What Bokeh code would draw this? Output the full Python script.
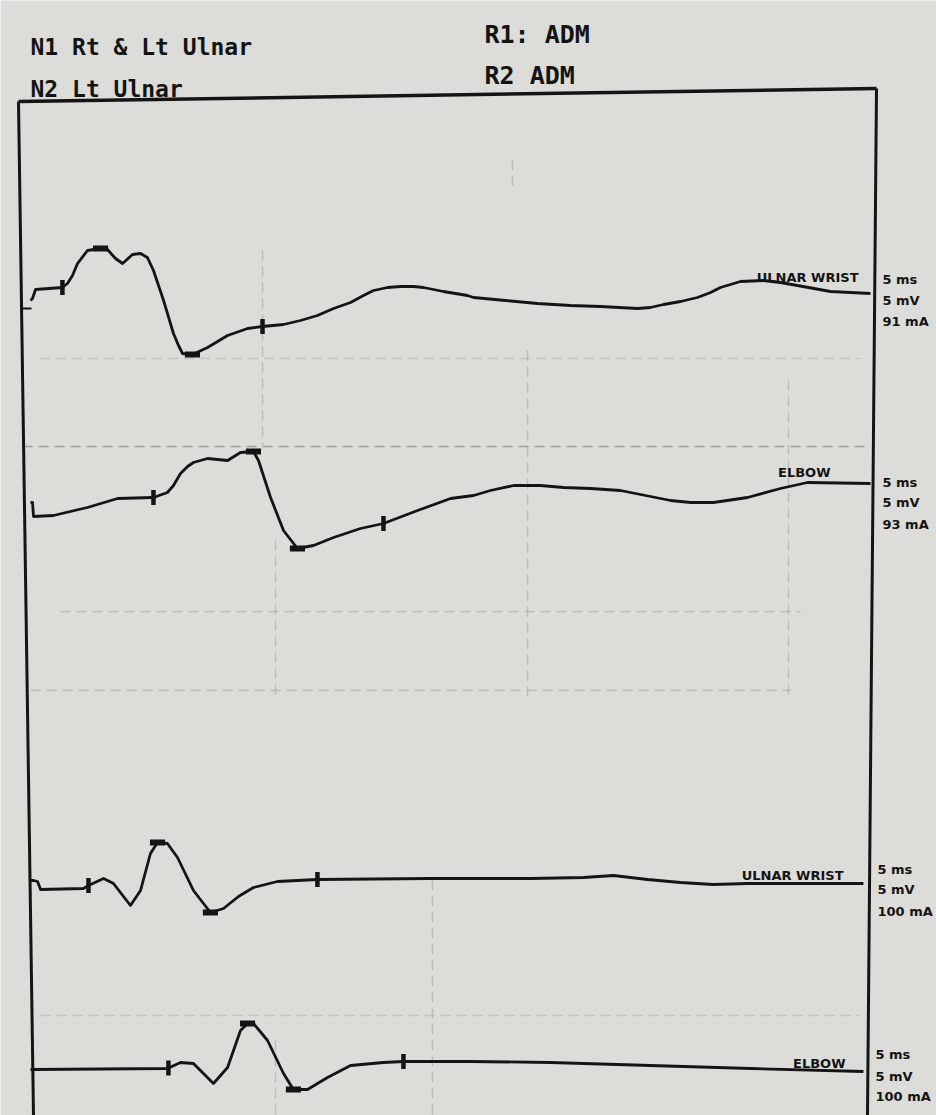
import numpy as np
from bokeh.plotting import figure
from bokeh.models import Range1d, Label
from bokeh.embed import file_html
from bokeh.resources import INLINE

# ---------------- data (time in ms, amplitude in mV relative to each sweep's baseline)
t_rwrist = [0.00, 0.12, 0.30, 1.90, 2.20, 2.50, 2.80, 3.39, 4.17, 4.58, 5.06, 5.48, 6.07, 6.55, 6.96,
            7.32, 7.92, 8.51, 8.81, 9.05, 9.64, 10.54, 11.73, 12.92, 13.81, 15.06, 16.07, 17.08,
            18.04, 19.05, 19.82, 20.42, 21.25, 22.02, 22.80, 23.39, 24.58, 26.01, 26.37, 28.27,
            30.18, 32.14, 33.93, 36.13, 36.90, 37.68, 38.69, 39.70, 40.48, 41.07, 42.26, 43.63,
            44.64, 45.65, 47.62, 50.00]
v_rwrist = [0.0, 0.2, 1.1, 1.3, 1.7, 2.5, 3.7, 5.0, 5.2, 5.1, 4.2, 3.7, 4.6, 4.7, 4.3,
            3.0, 0.0, -3.3, -4.5, -5.3, -5.4, -4.7, -3.5, -2.8, -2.6, -2.4, -2.0, -1.5,
            -0.8, -0.2, 0.5, 1.0, 1.3, 1.4, 1.4, 1.3, 0.9, 0.5, 0.3, 0.0,
            -0.3, -0.5, -0.6, -0.8, -0.7, -0.4, -0.1, 0.3, 0.8, 1.3, 1.9, 2.0,
            1.8, 1.5, 0.9, 0.7]

t_relbow = [0.00, 0.12, 0.18, 1.37, 3.39, 5.18, 7.32, 8.15, 8.51, 8.93, 9.35, 9.70, 10.54, 11.73,
            12.50, 13.27, 13.57, 14.29, 15.06, 15.89, 16.85, 18.04, 19.64, 21.01, 23.04, 25.00,
            26.37, 27.38, 28.75, 30.36, 31.73, 33.33, 35.12, 36.61, 38.10, 39.29, 40.65, 42.68,
            44.64, 46.25, 50.00]
v_relbow = [1.3, 1.3, -0.1, 0.0, 0.8, 1.7, 1.8, 2.3, 3.0, 4.2, 4.9, 5.3, 5.7, 5.5,
            6.3, 6.4, 5.5, 1.8, -1.5, -3.3, -3.0, -2.2, -1.3, -0.8, 0.5, 1.7,
            2.0, 2.5, 3.0, 3.0, 2.8, 2.7, 2.5, 2.0, 1.5, 1.3, 1.3, 1.8,
            2.7, 3.3, 3.2]

t_lwrist = [0.00, 0.18, 0.42, 0.60, 3.15, 3.45, 4.35, 4.94, 5.95, 6.55, 7.14, 7.56, 8.15, 8.75, 9.70,
            10.71, 11.49, 12.38, 13.27, 14.70, 17.08, 23.81, 29.76, 32.92, 34.70, 36.73, 38.69,
            40.65, 42.68, 49.58]
v_lwrist = [0.0, 0.0, -0.1, -0.9, -0.8, -0.5, 0.2, -0.3, -2.5, -1.0, 2.7, 3.8, 3.7, 2.3, -1.0,
            -3.2, -2.8, -1.6, -0.7, -0.1, 0.1, 0.2, 0.2, 0.3, 0.5, 0.1, -0.2,
            -0.4, -0.3, -0.3]

t_lelbow = [0.00, 0.18, 8.15, 8.93, 9.70, 10.89, 11.73, 12.50, 12.92, 13.27, 14.11, 15.06, 15.65,
            16.49, 17.68, 19.05, 21.01, 22.20, 26.19, 30.95, 36.90, 42.86, 49.58]
v_lelbow = [0.0, 0.0, 0.1, 0.7, 0.6, -1.4, 0.2, 3.9, 4.6, 4.6, 2.9, -0.4, -2.0,
            -2.0, -0.8, 0.4, 0.7, 0.8, 0.8, 0.7, 0.4, 0.1, -0.2]

# latency cursors (ms)
cursors_rwrist = [1.90, 13.81]
cursors_relbow = [7.32, 21.01]
cursors_lwrist = [3.45, 17.08]
cursors_lelbow = [8.21, 22.20]

sites = ["ULNAR WRIST", "ELBOW", "ULNAR WRIST", "ELBOW"]
sweeps = ["5 ms", "5 ms", "5 ms", "5 ms"]
gains = ["5 mV", "5 mV", "5 mV", "5 mV"]
intensities = ["91 mA", "93 mA", "100 mA", "100 mA"]

header_left = ["N1 Rt & Lt Ulnar", "N2 Lt Ulnar"]
header_mid = ["R1: ADM", "R2 ADM"]

# ---------------- layout
W, H = 936, 1115
PX_MS = 16.8      # pixels per ms
PX_MV = 10.0      # pixels per mV

def px(x):  # page pixel x -> data
    return (x - 30) / PX_MS

def py(y):  # page pixel y -> data
    return -y / PX_MV

BG = "#dcdcd9"
INK = "#141414"

p = figure(width=W, height=H, output_backend="svg", toolbar_location=None,
           x_range=Range1d(px(0), px(W)), y_range=Range1d(py(H), py(0)),
           min_border=0, min_border_left=0, min_border_right=0, min_border_top=0,
           min_border_bottom=0, outline_line_color=None,
           background_fill_color=BG, border_fill_color=BG)
p.axis.visible = False
p.grid.visible = False

# faint ghost graticule
ghost_h = [(22, 870, 446, "#8c8c8a", 0.75), (40, 860, 358, "#b4b4b2", 0.6),
           (60, 800, 611, "#a8a8a6", 0.6), (30, 790, 690, "#a8a8a6", 0.6),
           (40, 860, 1015, "#b4b4b2", 0.6)]
for xa, xb, yy, c, a in ghost_h:
    p.line([px(xa), px(xb)], [py(yy), py(yy)], line_color=c, line_alpha=a,
           line_width=1.5, line_dash="10 6")
ghost_v = [(262, 250, 445), (275, 540, 700), (527, 350, 700), (788, 380, 700),
           (512, 160, 185), (432, 880, 1115), (275, 1040, 1115)]
for xx, ya, yb in ghost_v:
    p.line([px(xx), px(xx)], [py(ya), py(yb)], line_color="#a6a6a4", line_alpha=0.6,
           line_width=1.5, line_dash="10 6")

# frame (slightly skewed like the photographed printout)
p.line([px(18), px(876)], [py(101), py(88)], line_color=INK, line_width=3.5)
p.line([px(18), px(33)], [py(101), py(1115)], line_color=INK, line_width=3)
p.line([px(876), px(867)], [py(88), py(1115)], line_color=INK, line_width=3)
p.line([px(20), px(31)], [py(308), py(308)], line_color=INK, line_width=2)

# sweeps
traces = [(t_rwrist, v_rwrist, cursors_rwrist, py(300)),
          (t_relbow, v_relbow, cursors_relbow, py(515)),
          (t_lwrist, v_lwrist, cursors_lwrist, py(880)),
          (t_lelbow, v_lelbow, cursors_lelbow, py(1069))]

for t, v, cur, off in traces:
    t = np.array(t); v = np.array(v)
    p.line(t, v + off, line_color=INK, line_width=2.8, line_join="round")
    cy = np.interp(cur, t, v) + off
    p.segment(x0=cur, y0=cy - 0.75, x1=cur, y1=cy + 0.75, line_color=INK, line_width=4.5)
    for idx in (int(np.argmax(v)), int(np.argmin(v))):
        p.segment(x0=[t[idx] - 0.45], y0=[v[idx] + off], x1=[t[idx] + 0.45], y1=[v[idx] + off],
                  line_color=INK, line_width=6)

# header texts
FONT = "DejaVu Sans"
MONO = "DejaVu Sans Mono"
for txt, (xx, yy) in zip(header_left, [(30, 46), (30, 88)]):
    p.add_layout(Label(x=px(xx), y=py(yy), text=txt, text_font=MONO, text_font_style="bold",
                       text_font_size="23px", text_color=INK, text_baseline="middle"))
for txt, (xx, yy) in zip(header_mid, [(484, 34), (484, 75)]):
    p.add_layout(Label(x=px(xx), y=py(yy), text=txt, text_font=MONO, text_font_style="bold",
                       text_font_size="25px", text_color=INK, text_baseline="middle"))

# per-sweep annotations
site_pos = [(858, 277), (830, 472), (843, 875), (845, 1063)]
scale_pos = [(882, [279, 300, 321]), (882, [482, 502, 524]),
             (877, [869, 889, 911]), (875, [1054, 1076, 1096])]
for i in range(4):
    sx, sy = site_pos[i]
    p.add_layout(Label(x=px(sx), y=py(sy), text=sites[i], text_font=FONT,
                       text_font_style="bold", text_font_size="13px", text_color=INK,
                       text_align="right", text_baseline="middle"))
    gx, gys = scale_pos[i]
    for txt, gy in zip([sweeps[i], gains[i], intensities[i]], gys):
        p.add_layout(Label(x=px(gx), y=py(gy), text=txt, text_font=FONT,
                           text_font_style="bold", text_font_size="13px", text_color=INK,
                           text_baseline="middle"))

html = file_html(p, INLINE)
html = html.replace("<body>", '<body style="margin:0;overflow:hidden;background-color:%s;">' % BG, 1)
open("out.html", "w").write(html)
